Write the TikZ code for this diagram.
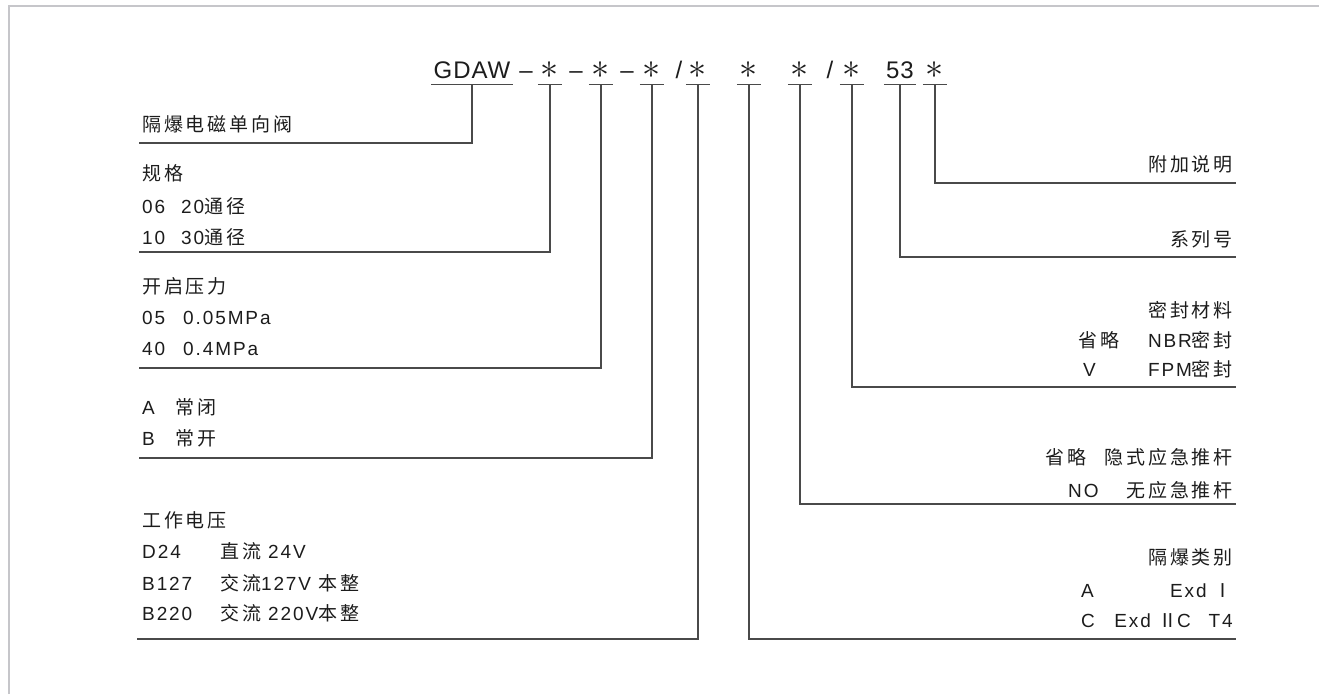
\documentclass[tikz,border=0pt]{standalone}
\usepackage{fontspec}
\setmainfont{Liberation Sans}[LetterSpace=10]
\newfontfamily\cjk{Noto Sans CJK SC}[LetterSpace=15]
\newfontfamily\codefont{Liberation Sans}[LetterSpace=4]
\newcommand{\zhs}[1]{{\cjk #1}}
\newcommand{\mystar}{\scalebox{1.45}{$\ast$}}
\definecolor{txt}{HTML}{1C1C1C}
\definecolor{rule}{HTML}{4A4A4A}
\definecolor{frame}{HTML}{C6C6CA}

\begin{document}
\begin{tikzpicture}[x=1pt,y=-1pt,
	lbl/.style={inner sep=0pt,text=txt,font=\fontsize{19}{22}\selectfont},
	code/.style={anchor=base,inner xsep=2pt,inner ysep=6pt,text depth=0pt,minimum width=24pt,text=txt,font=\codefont\fontsize{24}{28}\selectfont},
	sep/.style={anchor=base,inner sep=0pt,text=txt,font=\codefont\fontsize{24}{28}\selectfont},
	lead/.style={draw=rule,line width=1.3pt}]
	\useasboundingbox (0,0) rectangle (1319,694);
	\draw[frame,line width=2.5pt] (9,694) -- (9,6) -- (1319,6);

	% model code
	\node[code] (gdaw) at (472,78) {GDAW};
	\node[sep]  (d1)   at (526,78) {–};
	\node[code] (s1)   at (550,78) {\mystar};
	\node[sep]  (d2)   at (576,78) {–};
	\node[code] (s2)   at (601,78) {\mystar};
	\node[sep]  (d3)   at (627,78) {–};
	\node[code] (s3)   at (652,78) {\mystar};
	\node[sep]  (sl1)  at (679,78) {/};
	\node[code] (s4)   at (698,78) {\mystar};
	\node[code] (s5)   at (749,78) {\mystar};
	\node[code] (s6)   at (800,78) {\mystar};
	\node[sep]  (sl2)  at (830,78) {/};
	\node[code] (s7)   at (852,78) {\mystar};
	\node[code] (n53)  at (900,78) {53};
	\node[code] (s8)   at (935,78) {\mystar};
	\foreach \n in {gdaw,s1,s2,s3,s4,s5,s6,s7,n53,s8}
		\draw[lead] (\n.south west) -- (\n.south east);

	% left column
	\node[lbl,anchor=base west] (t1)  at (142,131) {\zhs{隔爆电磁单向阀}};
	\node[lbl,anchor=base west] (t2)  at (142,180) {\zhs{规格}};
	\node[lbl,anchor=base west] (k21) at (142,213) {06};
	\node[lbl,anchor=base west] (v21) at (181,213) {20\zhs{通径}};
	\node[lbl,anchor=base west] (k22) at (142,244) {10};
	\node[lbl,anchor=base west] (v22) at (181,244) {30\zhs{通径}};
	\node[lbl,anchor=base west] (t3)  at (142,293) {\zhs{开启压力}};
	\node[lbl,anchor=base west] (k31) at (142,324) {05};
	\node[lbl,anchor=base west] (v31) at (183,324) {0.05MPa};
	\node[lbl,anchor=base west] (k32) at (142,355) {40};
	\node[lbl,anchor=base west] (v32) at (183,355) {0.4MPa};
	\node[lbl,anchor=base west] (k41) at (142,414) {A};
	\node[lbl,anchor=base west] (v41) at (175,414) {\zhs{常闭}};
	\node[lbl,anchor=base west] (k42) at (142,445) {B};
	\node[lbl,anchor=base west] (v42) at (175,445) {\zhs{常开}};
	\node[lbl,anchor=base west] (t5)  at (142,527) {\zhs{工作电压}};
	\node[lbl,anchor=base west] (k51) at (142,558) {D24};
	\node[lbl,anchor=base west] (v51) at (220,558) {\zhs{直流} 24V};
	\node[lbl,anchor=base west] (k52) at (142,590) {B127};
	\node[lbl,anchor=base west] (v52) at (220,590) {\zhs{交流}127V \zhs{本整}};
	\node[lbl,anchor=base west] (k53) at (142,620) {B220};
	\node[lbl,anchor=base west] (v53) at (220,620) {\zhs{交流} 220V\zhs{本整}};

	% right column
	\node[lbl,anchor=base east] (r1t) at (1233,171) {\zhs{附加说明}};
	\node[lbl,anchor=base east] (r2t) at (1233,246) {\zhs{系列号}};
	\node[lbl,anchor=base east] (r3t) at (1233,317) {\zhs{密封材料}};
	\node[lbl,anchor=base west] (r3a) at (1078,347) {\zhs{省略}};
	\node[lbl,anchor=base east] (r3b) at (1233,347) {NBR\zhs{密封}};
	\node[lbl,anchor=base west] (r3c) at (1083,376) {V};
	\node[lbl,anchor=base east] (r3d) at (1233,376) {FPM\zhs{密封}};
	\node[lbl,anchor=base west] (r4a) at (1045,464) {\zhs{省略}};
	\node[lbl,anchor=base east] (r4b) at (1233,464) {\zhs{隐式应急推杆}};
	\node[lbl,anchor=base west] (r4c) at (1068,497) {NO};
	\node[lbl,anchor=base east] (r4d) at (1233,497) {\zhs{无应急推杆}};
	\node[lbl,anchor=base east] (r5t) at (1233,564) {\zhs{隔爆类别}};
	\node[lbl,anchor=base west] (r5a) at (1081,597) {A};
	\node[lbl,anchor=base east] (r5b) at (1233,597) {Exd \zhs{Ⅰ}};
	\node[lbl,anchor=base west] (r5c) at (1081,627) {C};
	\node[lbl,anchor=base east] (r5d) at (1233,627) {Exd \zhs{Ⅱ}C\hspace{18pt}T4};

	% leader ends
	\coordinate (l1) at (139,143);
	\coordinate (l2) at (139,252);
	\coordinate (l3) at (139,368);
	\coordinate (l4) at (139,458);
	\coordinate (l5) at (137,639);
	\coordinate (r1) at (1236,183);
	\coordinate (r2) at (1236,257);
	\coordinate (r3) at (1236,387);
	\coordinate (r4) at (1236,504);
	\coordinate (r5) at (1236,639);

	\draw[lead] (gdaw.south) |- (l1);
	\draw[lead] (s1.south) |- (l2);
	\draw[lead] (s2.south) |- (l3);
	\draw[lead] (s3.south) |- (l4);
	\draw[lead] (s4.south) |- (l5);
	\draw[lead] (s5.south) |- (r5);
	\draw[lead] (s6.south) |- (r4);
	\draw[lead] (s7.south) |- (r3);
	\draw[lead] (n53.south) |- (r2);
	\draw[lead] (s8.south) |- (r1);
\end{tikzpicture}
\end{document}
